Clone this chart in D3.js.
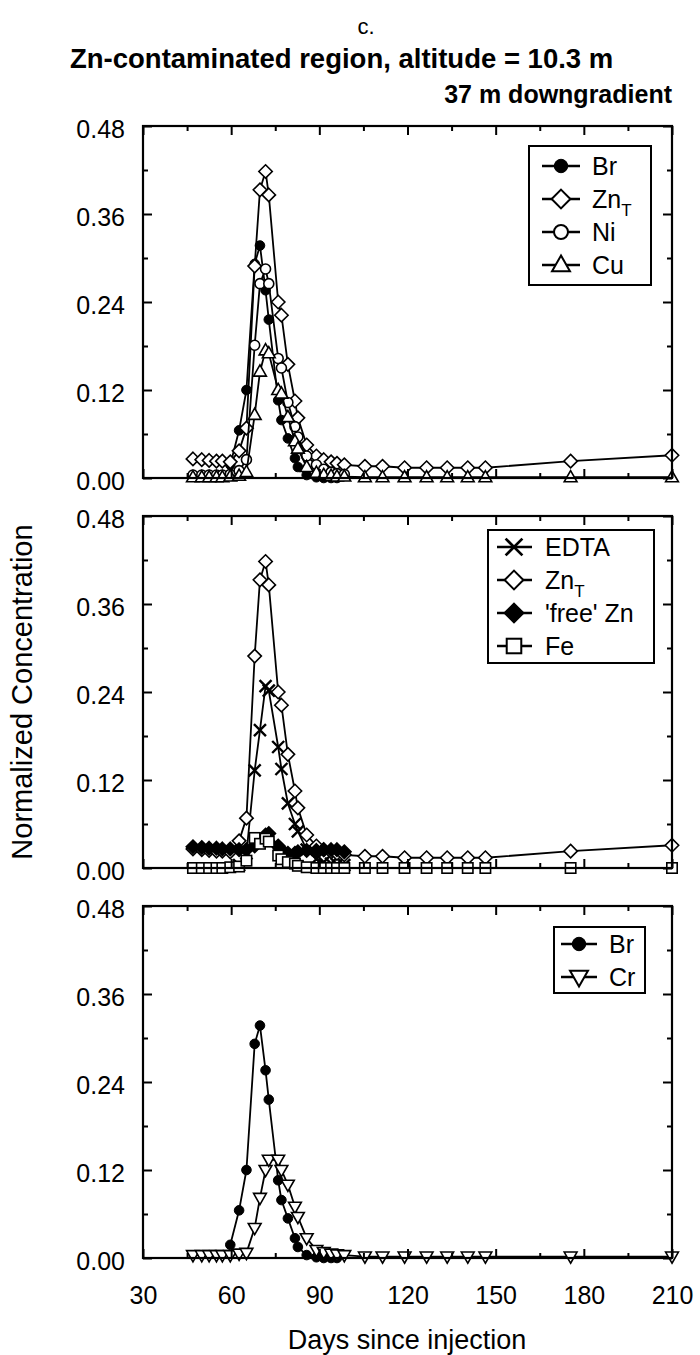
<!DOCTYPE html>
<html><head><meta charset="utf-8">
<script src="https://cdn.jsdelivr.net/npm/d3@7"></script>
<style>body{margin:0;background:#fff} svg{display:block} text{font-family:"Liberation Sans",Arial,sans-serif;fill:#000}</style>
</head><body><svg id="c" width="700" height="1355"></svg>
<script>
// ---- data (days since injection, normalized concentration) ----
const days = [47, 50, 52.5, 55, 57, 59.7, 62.7, 65.2, 68, 69.8, 71.7, 72.8, 76, 77.1, 79.3, 81.7, 82.7, 85.7, 89, 91.5, 94, 96, 98.5, 105.5, 111.5, 119, 126.5, 133.5, 140.5, 146.5, 175.5, 210];
const brValues = [null,null,null,null,null,0.018,0.065,0.12,0.292,0.317,0.256,0.216,0.106,0.079,0.054,0.027,0.015,0.004,0.001,0,0,0,null,null,null,null,null,null,null,null,null,null];
const znTValues = [0.026,0.025,0.024,0.023,0.023,0.022,0.037,0.068,0.289,0.393,0.418,0.386,0.24,0.222,0.155,0.105,0.082,0.045,0.03,0.025,0.022,0.02,0.018,0.016,0.016,0.014,0.014,0.014,0.014,0.014,0.023,0.031];
const niValues = [0.004,0.004,0.004,0.004,0.004,0.005,0.01,0.025,0.181,0.265,0.285,0.265,0.163,0.15,0.103,0.07,0.056,0.03,0.018,0.012,0.008,0.006,0.005,null,null,null,null,null,null,null,null,null];
const cuValues = [0.001,0.001,0.001,0.001,0.001,0.002,0.003,0.008,0.086,0.145,0.174,0.17,0.12,0.115,0.083,0.05,0.04,0.015,0.007,0.004,0.003,0.002,0.002,0.001,0.001,0.001,0.001,0.001,0.001,0.001,0.001,0.001];
const edtaValues = [null,null,null,null,null,null,0.004,0.02,0.133,0.188,0.248,0.242,0.165,0.135,0.088,0.06,0.05,0.025,0.012,0.008,0.006,0.005,0.004,null,null,null,null,null,null,null,null,null];
const freeZnValues = [0.029,0.028,0.027,0.027,0.026,0.026,0.025,0.025,0.03,0.038,0.045,0.047,0.03,0.025,0.02,0.02,0.022,0.024,0.024,0.025,0.025,0.025,0.022,null,null,null,null,null,null,null,null,null];
const feValues = [0,0,0,0,0,0.001,0.002,0.01,0.041,0.033,0.04,0.036,0.017,0.012,0.008,0.006,0.003,0.001,0,0,0,0,0,0,0,0,0,0,0,0,0,0];
const crValues = [0.004,0.004,0.004,0.004,0.004,0.004,0.006,0.007,0.041,0.082,0.12,0.134,0.134,0.12,0.1,0.07,0.056,0.027,0.011,0.008,0.006,0.005,0.004,0.002,0.002,0.002,0.002,0.002,0.002,0.002,0.002,0.002];

const xTickValues = [30, 60, 90, 120, 150, 180, 210];
const xMinorTicks = [45, 75, 105, 135, 165, 195];
const yTickValues = [0, 0.12, 0.24, 0.36, 0.48];
const yMinorTicks = [0.06, 0.18, 0.30, 0.42];
const yTickLabels = ["0.00", "0.12", "0.24", "0.36", "0.48"];

const titleText = "Zn-contaminated region, altitude = 10.3 m";
const subtitleText = "37 m downgradient";
const panelLetter = "c.";
const xLabel = "Days since injection";
const yLabel = "Normalized Concentration";

// ---- layout ----
const svg = d3.select("#c");
const x = d3.scaleLinear().domain([30, 210]).range([143, 672]);

const panels = [
  {top: 126, bottom: 478, series: [
      {name: "Br", vals: brValues, m: "fcircle"},
      {name: "ZnT", vals: znTValues, m: "diamond"},
      {name: "Ni", vals: niValues, m: "ocircle"},
      {name: "Cu", vals: cuValues, m: "tri"}],
    legend: {x0: 529, x1: 651, y0: 146, y1: 285, rows: [166, 199, 232, 265], lx0: 542, lx1: 580, mx: 561, tx: 592,
      items: [["Br","fcircle"],["ZnT","diamond"],["Ni","ocircle"],["Cu","tri"]]}},
  {top: 516, bottom: 868, series: [
      {name: "EDTA", vals: edtaValues, m: "cross"},
      {name: "ZnT", vals: znTValues, m: "diamond"},
      {name: "free", vals: freeZnValues, m: "fdiamond"},
      {name: "Fe", vals: feValues, m: "square"}],
    legend: {x0: 488, x1: 654, y0: 530, y1: 663, rows: [547, 580, 613, 646], lx0: 497, lx1: 532, mx: 514, tx: 545,
      items: [["EDTA","cross"],["ZnT","diamond"],["'free' Zn","fdiamond"],["Fe","square"]]}},
  {top: 906, bottom: 1258, series: [
      {name: "Br", vals: brValues, m: "fcircle"},
      {name: "Cr", vals: crValues, m: "dtri"}],
    legend: {x0: 554, x1: 645, y0: 927, y1: 993, rows: [944, 977], lx0: 561, lx1: 597, mx: 579, tx: 609,
      items: [["Br","fcircle"],["Cr","dtri"]]}}
];

function marker(g, type, cx, cy, s) {
  const sw = 1.6 * Math.max(1, s * 0.9);
  if (type === "fcircle") {
    g.append("circle").attr("cx", cx).attr("cy", cy).attr("r", 4.8 * s).attr("fill", "#000").attr("stroke", "#000").attr("stroke-width", 1);
  } else if (type === "ocircle") {
    g.append("circle").attr("cx", cx).attr("cy", cy).attr("r", 5 * s).attr("fill", "#fff").attr("stroke", "#000").attr("stroke-width", sw);
  } else if (type === "diamond" || type === "fdiamond") {
    const r = 6.7 * s;
    g.append("path").attr("d", `M${cx},${cy - r}L${cx + r},${cy}L${cx},${cy + r}L${cx - r},${cy}Z`)
      .attr("fill", type === "fdiamond" ? "#000" : "#fff").attr("stroke", "#000").attr("stroke-width", sw).attr("stroke-linejoin", "miter");
  } else if (type === "square") {
    const r = 5.2 * s;
    g.append("rect").attr("x", cx - r).attr("y", cy - r).attr("width", 2 * r).attr("height", 2 * r)
      .attr("fill", "#fff").attr("stroke", "#000").attr("stroke-width", sw);
  } else if (type === "tri") {
    const a = 6.4 * s;
    g.append("path").attr("d", `M${cx},${cy - a * 1.05}L${cx + a},${cy + a * 0.7}L${cx - a},${cy + a * 0.7}Z`)
      .attr("fill", "#fff").attr("stroke", "#000").attr("stroke-width", sw);
  } else if (type === "dtri") {
    const a = 6.4 * s;
    g.append("path").attr("d", `M${cx},${cy + a * 1.05}L${cx + a},${cy - a * 0.7}L${cx - a},${cy - a * 0.7}Z`)
      .attr("fill", "#fff").attr("stroke", "#000").attr("stroke-width", sw);
  } else if (type === "cross") {
    const r = 6 * s;
    g.append("path").attr("d", `M${cx - r},${cy - r}L${cx + r},${cy + r}M${cx - r},${cy + r}L${cx + r},${cy - r}`)
      .attr("fill", "none").attr("stroke", "#000").attr("stroke-width", 2.4 * Math.max(1, s * 0.8));
  }
}

function legendLabel(t, name) {
  if (name === "ZnT") {
    t.text("Zn");
    t.append("tspan").attr("font-size", 17).attr("dy", 8).text("T");
  } else t.text(name);
}

panels.forEach((p, pi) => {
  const y = d3.scaleLinear().domain([0, 0.48]).range([p.bottom, p.top]);
  const g = svg.append("g");

  p.series.forEach(s => {
    const pts = days.map((d, i) => ({d, v: s.vals[i]})).filter(o => o.v != null);
    const line = d3.line().x(o => x(o.d)).y(o => y(o.v));
    g.append("path").attr("d", line(pts)).attr("fill", "none").attr("stroke", "#000").attr("stroke-width", 1.8).attr("stroke-linejoin", "round");
    const mg = g.append("g");
    pts.forEach(o => marker(mg, s.m, x(o.d), y(o.v), 1));
  });

  const bottomAx = d3.axisBottom(x).tickValues(xTickValues).tickSize(-9).tickPadding(28)
    .tickFormat(pi === 2 ? d3.format("d") : () => "");
  const bottomMinor = d3.axisBottom(x).tickValues(xMinorTicks).tickSize(-5).tickFormat(() => "");
  const topAx = d3.axisTop(x).tickValues(xTickValues).tickSize(-9).tickFormat(() => "");
  const topMinor = d3.axisTop(x).tickValues(xMinorTicks).tickSize(-5).tickFormat(() => "");
  const leftAx = d3.axisLeft(y).tickValues(yTickValues).tickSize(-9).tickPadding(18).tickFormat((d, i) => yTickLabels[i]);
  const leftMinor = d3.axisLeft(y).tickValues(yMinorTicks).tickSize(-5).tickFormat(() => "");
  const rightAx = d3.axisRight(y).tickValues(yTickValues).tickSize(-9).tickFormat(() => "");
  const rightMinor = d3.axisRight(y).tickValues(yMinorTicks).tickSize(-5).tickFormat(() => "");

  const ax = [
    [bottomAx, `translate(0,${p.bottom})`], [bottomMinor, `translate(0,${p.bottom})`],
    [topAx, `translate(0,${p.top})`], [topMinor, `translate(0,${p.top})`],
    [leftAx, `translate(${x(30)},0)`], [leftMinor, `translate(${x(30)},0)`],
    [rightAx, `translate(${x(210)},0)`], [rightMinor, `translate(${x(210)},0)`]
  ];
  ax.forEach(([a, tr]) => {
    const ag = svg.append("g").attr("transform", tr).call(a);
    ag.select(".domain").remove();
    ag.selectAll("line").attr("stroke", "#000").attr("stroke-width", 2);
    ag.selectAll("text").attr("font-size", 25).attr("font-family", "Liberation Sans, Arial, sans-serif").attr("fill", "#000");
  });

  svg.append("rect").attr("x", x(30)).attr("y", p.top).attr("width", x(210) - x(30)).attr("height", p.bottom - p.top)
    .attr("fill", "none").attr("stroke", "#000").attr("stroke-width", 2.2);

  const L = p.legend;
  const lg = svg.append("g");
  lg.append("rect").attr("x", L.x0).attr("y", L.y0).attr("width", L.x1 - L.x0).attr("height", L.y1 - L.y0)
    .attr("fill", "#fff").attr("stroke", "#000").attr("stroke-width", 2);
  L.items.forEach(([name, m], i) => {
    const ry = L.rows[i];
    lg.append("line").attr("x1", L.lx0).attr("x2", L.lx1).attr("y1", ry).attr("y2", ry).attr("stroke", "#000").attr("stroke-width", 2.6);
    marker(lg, m, L.mx, ry, 1.4);
    const t = lg.append("text").attr("x", L.tx).attr("y", ry + 9).attr("font-size", 25);
    legendLabel(t, name);
  });
});

svg.selectAll(".tick text").filter(function () { return d3.select(this).attr("dy") === "0.32em"; }).attr("dy", "0.46em");

// titles
svg.append("text").attr("x", 366).attr("y", 34).attr("text-anchor", "middle").attr("font-size", 22).text(panelLetter);
svg.append("text").attr("x", 70).attr("y", 68).attr("font-size", 27.5).attr("font-weight", "bold").text(titleText);
svg.append("text").attr("x", 672).attr("y", 103).attr("text-anchor", "end").attr("font-size", 25).attr("font-weight", "bold").text(subtitleText);

// axis labels
svg.append("text").attr("x", 407).attr("y", 1349).attr("text-anchor", "middle").attr("font-size", 27).text(xLabel);
svg.append("text").attr("transform", "translate(32,692) rotate(-90)").attr("text-anchor", "middle").attr("font-size", 29).text(yLabel);
</script></body></html>
